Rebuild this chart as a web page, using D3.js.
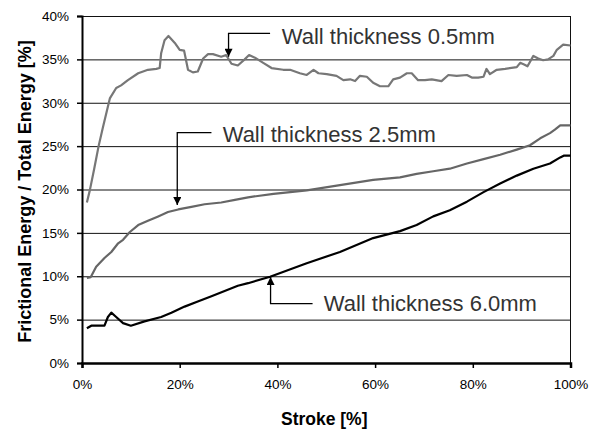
<!DOCTYPE html>
<html>
<head>
<meta charset="utf-8">
<script src="https://cdn.jsdelivr.net/npm/d3@7"></script>
<style>
  body { margin: 0; background: #fff; }
  svg { display: block; font-family: "Liberation Sans", Arial, sans-serif; }
  .grid line { stroke: #111; stroke-width: 1; }
  .grid .domain { display: none; }
  .axis text { font-size: 13.5px; fill: #000; }
  .axis-title { font-weight: bold; fill: #000; }
  .note text { font-size: 22px; fill: #333; }
</style>
</head>
<body>
<div id="chart"></div>
<script>
// Stroke [%] and frictional/total energy [%] for each wall thickness
const wall05 = [
  [1, 18.5], [1.6, 19.9], [2.5, 22.4], [3.4, 25.0], [4.3, 27.2], [5.7, 30.5], [7, 31.7],
  [8, 32.0], [9.4, 32.6], [11.5, 33.4], [13.5, 33.8], [15.2, 33.9], [15.9, 34.0],
  [16.2, 35.7], [16.9, 37.2], [17.7, 37.7], [19, 36.9], [20, 36.1], [20.9, 36.0],
  [21.7, 33.8], [22.7, 33.5], [23.7, 33.6], [24.8, 35.1], [25.8, 35.6], [26.8, 35.6],
  [28.5, 35.3], [29.5, 35.5], [30.6, 34.5], [31.9, 34.3], [33.3, 35.0], [34.2, 35.5],
  [35.4, 35.2], [37.1, 34.6], [38.8, 34.0], [41.2, 33.8], [42.6, 33.8], [44.6, 33.4],
  [46, 33.2], [47.4, 33.8], [48.4, 33.4], [50.1, 33.3], [52.1, 33.1], [53.5, 32.6],
  [54.9, 32.7], [55.9, 32.5], [56.9, 33.1], [58.3, 33.0], [59.6, 32.3], [61, 31.9],
  [62.7, 31.9], [63.7, 32.7], [65.1, 32.9], [66.5, 33.4], [67.5, 33.4], [68.8, 32.6],
  [70.2, 32.6], [71.6, 32.7], [73.6, 32.5], [75, 33.2], [76.7, 33.1], [78.8, 33.2],
  [79.8, 32.9], [81.1, 32.9], [82.2, 33.0], [82.8, 33.9], [83.5, 33.3], [84.9, 33.8],
  [86.6, 33.9], [89, 34.1], [89.7, 34.6], [90.5, 34.4], [91.2, 34.2], [92.4, 35.4],
  [93.4, 35.1], [94.4, 34.9], [95.4, 35.0], [96.5, 35.4], [97.2, 36.1], [98.5, 36.7],
  [100, 36.6]
];

const wall25 = [
  [1, 9.8], [1.8, 9.9], [2.9, 11.1], [4.6, 12.1], [6, 12.8], [7.4, 13.8], [8.4, 14.2],
  [9.8, 15.1], [11.5, 15.9], [13.5, 16.4], [15.6, 16.9], [17.6, 17.4], [19.7, 17.7],
  [22.4, 18.0], [25.1, 18.3], [28.5, 18.5], [31.3, 18.8], [34, 19.1], [39.2, 19.5],
  [46, 19.9], [52.8, 20.5], [59.6, 21.1], [65.1, 21.4], [68.5, 21.8], [71.9, 22.1],
  [75.3, 22.4], [78.8, 23.0], [82.2, 23.5], [85.6, 24.0], [89, 24.6], [91.7, 25.1],
  [93.8, 25.9], [95.8, 26.5], [96.8, 26.9], [97.9, 27.4], [100, 27.4]
];

const wall60 = [
  [1, 4.0], [1.9, 4.3], [4.6, 4.3], [5.3, 5.3], [6, 5.8], [7, 5.3], [8.4, 4.6], [10, 4.3],
  [12.8, 4.8], [16.2, 5.3], [18.3, 5.8], [21, 6.5], [23.7, 7.1], [26.5, 7.7], [29.2, 8.3],
  [31.9, 8.9], [34, 9.2], [38.5, 9.95], [46, 11.5], [52.8, 12.8], [59.6, 14.4],
  [65.1, 15.2], [68.5, 15.9], [71.9, 16.9], [75.3, 17.6], [78.8, 18.6], [82.2, 19.7],
  [85.6, 20.7], [89, 21.6], [92.4, 22.4], [95.8, 23.0], [97.9, 23.7], [98.6, 23.9],
  [100, 23.9]
];

const xTicks = [0, 20, 40, 60, 80, 100];
const yTicks = [0, 5, 10, 15, 20, 25, 30, 35, 40];

// labels: arrow tip, elbow value, end of leader and text anchor (data units)
const notes = [
  { text: 'Wall thickness 0.5mm', tip: [30.0, 35.3], elbowY: 38.0, lineEndX: 38.5, textAt: [40.9, 36.8] },
  { text: 'Wall thickness 2.5mm', tip: [19.5, 18.2], elbowY: 26.55, lineEndX: 26.5, textAt: [28.8, 25.5] },
  { text: 'Wall thickness 6.0mm', tip: [38.6, 9.9], elbowY: 6.84, lineEndX: 47.2, textAt: [49.5, 5.94] }
];

const width = 596, height = 429;
const margin = { top: 16, right: 25.5, bottom: 66, left: 82 };
const innerWidth = width - margin.left - margin.right;
const innerHeight = height - margin.top - margin.bottom;

const svg = d3.select('#chart').append('svg')
  .attr('width', width)
  .attr('height', height);

const defs = svg.append('defs');
defs.append('marker')
  .attr('id', 'arrow')
  .attr('viewBox', '0 0 10 10')
  .attr('refX', 10)
  .attr('refY', 5)
  .attr('markerUnits', 'userSpaceOnUse')
  .attr('markerWidth', 9)
  .attr('markerHeight', 8)
  .attr('orient', 'auto')
  .append('path')
  .attr('d', 'M0,0 L10,5 L0,10 Z')
  .attr('fill', '#000');

const g = svg.append('g')
  .attr('transform', `translate(${margin.left},${margin.top})`);

const x = d3.scaleLinear().domain([0, 100]).range([0, innerWidth]);
const y = d3.scaleLinear().domain([0, 40]).range([innerHeight, 0]);

// horizontal grid lines
g.append('g')
  .attr('class', 'grid')
  .call(d3.axisLeft(y).tickValues(yTicks.slice(1)).tickSize(-innerWidth).tickFormat(''));

// right border of plot area
g.append('line')
  .attr('x1', innerWidth).attr('x2', innerWidth)
  .attr('y1', 0).attr('y2', innerHeight)
  .attr('stroke', '#111');

// series
const line = d3.line()
  .x(d => x(d[0]))
  .y(d => y(d[1]));

const series = [
  { data: wall05, color: '#777' },
  { data: wall25, color: '#666' },
  { data: wall60, color: '#000' }
];

g.selectAll('.series')
  .data(series)
  .join('path')
  .attr('class', 'series')
  .attr('d', d => line(d.data))
  .attr('fill', 'none')
  .attr('stroke', d => d.color)
  .attr('stroke-width', 2.2)
  .attr('stroke-linejoin', 'round');

// axes
const yAxis = g.append('g')
  .attr('class', 'axis')
  .call(d3.axisLeft(y).tickValues(yTicks).tickSize(5).tickPadding(8).tickFormat(d => d + '%'));
yAxis.select('.domain').attr('stroke-width', 2);
yAxis.selectAll('.tick line').attr('stroke-width', 1.5);

const xAxis = g.append('g')
  .attr('class', 'axis')
  .attr('transform', `translate(0,${innerHeight})`)
  .call(d3.axisBottom(x).tickValues(xTicks).tickSize(5).tickPadding(11).tickFormat(d => d + '%'));
xAxis.select('.domain').attr('stroke-width', 2.5);
xAxis.selectAll('.tick line').attr('stroke-width', 1.5);

// axis titles
svg.append('text')
  .attr('class', 'axis-title')
  .attr('x', margin.left + innerWidth / 2 - 2)
  .attr('y', 424.5)
  .attr('text-anchor', 'middle')
  .style('font-size', '17.5px')
  .text('Stroke [%]');

svg.append('text')
  .attr('class', 'axis-title')
  .attr('transform', 'translate(30.5,191.5) rotate(-90)')
  .attr('text-anchor', 'middle')
  .style('font-size', '18px')
  .text('Frictional Energy / Total Energy [%]');

// annotations with leader arrows
const note = g.selectAll('.note')
  .data(notes)
  .join('g')
  .attr('class', 'note');

note.append('path')
  .attr('d', d => `M${x(d.lineEndX)},${y(d.elbowY)} H${x(d.tip[0])} V${y(d.tip[1])}`)
  .attr('fill', 'none')
  .attr('stroke', '#000')
  .attr('stroke-width', 1.3)
  .attr('marker-end', 'url(#arrow)');

note.append('text')
  .attr('x', d => x(d.textAt[0]))
  .attr('y', d => y(d.textAt[1]))
  .text(d => d.text);
</script>
</body>
</html>
